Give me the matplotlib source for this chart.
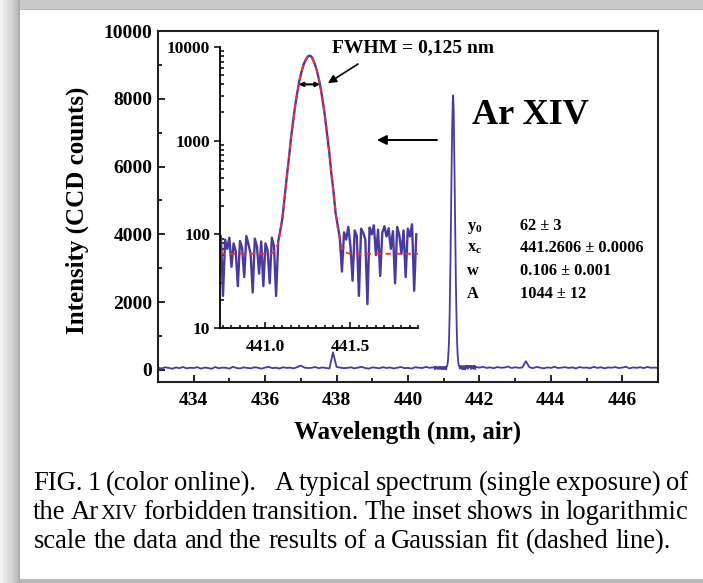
import numpy as np
import matplotlib.pyplot as plt
from matplotlib.patches import Rectangle
from matplotlib.ticker import MultipleLocator, FixedLocator, FixedFormatter, LogLocator, NullFormatter

W, H = 703, 583
serif = 'Liberation Serif'
plt.rcParams['font.family'] = serif
plt.rcParams['font.weight'] = 'bold'
plt.rcParams['axes.labelweight'] = 'bold'
plt.rcParams['mathtext.fontset'] = 'custom'
plt.rcParams['mathtext.rm'] = 'Liberation Serif:bold'
plt.rcParams['mathtext.it'] = 'Liberation Serif:bold'
plt.rcParams['mathtext.bf'] = 'Liberation Serif:bold'

# --- spectrum, coarse sampling away from the line (counts) ---
wl_left = np.round(np.linspace(433.0, 440.7, 78), 2)
counts_left = [70, 45, 80, 62, 38, 75, 55, 90, 48, 66, 58, 84, 40,
               72, 60, 35, 88, 52, 70, 64, 42, 95, 58, 46, 78, 60,
               50, 82, 66, 40, 74, 92, 55, 68, 44, 80, 62, 70, 48,
               86, 130, 72, 58, 64, 90, 52, 75, 60, 45, 520, 88, 70,
               55, 62, 80, 48, 72, 95, 58, 40, 76, 66, 52, 84, 60,
               74, 46, 68, 88, 55, 62, 42, 80, 70, 58, 92, 64, 75]
wl_right = np.round(np.linspace(441.9, 447.0, 52), 2)
counts_right = [85, 70, 95, 60, 78, 52, 88, 66, 74, 100, 58, 82, 64,
                72, 260, 80, 55, 90, 68, 48, 76, 62, 94, 58, 70, 84,
                60, 78, 45, 88, 66, 72, 54, 92, 62, 80, 50, 74, 68,
                86, 58, 70, 95, 48, 76, 64, 82, 55, 90, 66, 72, 60]

# --- full-resolution pixels around the Ar XIV line (inset) ---
wl_line = np.round(np.linspace(440.74, 441.89, 93), 4)
counts_line = [95, 22, 88, 70, 92, 45, 80, 66, 28, 85, 72, 35, 96, 78,
               62, 24, 90, 74, 38, 84, 28, 80, 68, 30, 92, 75, 22,
               84, 110, 150, 245, 405, 640, 1060, 1590, 2380, 3280, 4400,
               5460, 6560, 7330, 7950, 8100, 7700, 6780, 5830, 4680, 3620,
               2600, 1830, 1180, 760, 450, 290, 170, 125, 92, 40,
               105, 88, 120, 75, 32, 110, 96, 22, 115, 104, 88, 18, 118,
               100, 125, 60, 112, 36, 104, 122, 95, 116, 70, 108, 30, 120,
               98, 62, 110, 35, 115, 95, 128, 25, 100]

# Gaussian fit parameters
y0, xc, w, A = 62, 441.2606, 0.106, 1044
fwhm = 0.125

purple = '#4a3a9e'

fig = plt.figure(figsize=(W / 100, H / 100), dpi=100)

# page frame around the figure
left_greys = [0.95, 0.95, 0.95, 0.91, 0.9, 0.9, 0.89, 0.88, 0.86, 0.85, 0.85,
              0.84, 0.83, 0.8, 0.78, 0.77, 0.76, 0.72, 0.69, 0.68]
for i, g in enumerate(left_greys):
    fig.add_artist(Rectangle((i / W, 0), 1 / W, 1, transform=fig.transFigure,
                             color=str(g), lw=0, zorder=0))
fig.add_artist(Rectangle((20 / W, 1 - 9 / H), 1 - 20 / W, 9 / H,
                         transform=fig.transFigure, color='0.79', lw=0, zorder=0))
fig.add_artist(Rectangle((20 / W, 1 - 10 / H), 1 - 20 / W, 1.2 / H,
                         transform=fig.transFigure, color='0.72', lw=0, zorder=0))
fig.add_artist(Rectangle((20 / W, 0), 1 - 20 / W, 4 / H,
                         transform=fig.transFigure, color='0.72', lw=0, zorder=0))

# main spectrum
ax = fig.add_axes([158 / W, 1 - 382 / H, 500 / W, 351 / H])
wl_all = np.concatenate([wl_left, wl_line, wl_right])
counts_all = np.concatenate([counts_left, counts_line, counts_right])
ax.plot(wl_all, counts_all, color=purple, lw=1.3)
ax.set_xlim(433, 447)
ax.set_ylim(-354, 10000)
ax.xaxis.set_major_locator(MultipleLocator(2))
ax.xaxis.set_minor_locator(MultipleLocator(1))
ax.yaxis.set_major_locator(MultipleLocator(2000))
ax.yaxis.set_minor_locator(MultipleLocator(1000))
ax.tick_params(which='both', direction='in', top=False, right=False, width=1.2, labelsize=14)
ax.tick_params(which='major', length=5)
ax.tick_params(which='minor', length=3)
ax.tick_params(axis='x', pad=7)
ax.tick_params(axis='y', pad=4)
for s in ax.spines.values():
    s.set_linewidth(1.5)
    s.set_color('#222222')
ax.set_xlabel('Wavelength (nm, air)', fontsize=18, fontweight='bold', va='center')
ax.xaxis.set_label_coords(0.5, -0.142)
ax.set_ylabel('Intensity (CCD counts)', fontsize=18, fontweight='bold', va='center')
ax.yaxis.set_label_coords(-0.162, 0.49)

ax.text(441.79, 7257, 'Ar XIV', fontsize=26, va='baseline', ha='left')
par_names = [r'$\mathrm{y_0}$', r'$\mathrm{x_c}$', 'w', 'A']
par_vals = ['62 ± 3', '441.2606 ± 0.0006', '0.106 ± 0.001', '1044 ± 12']
par_y = [4130, 3481, 2802, 2124]
for name, val, yy in zip(par_names, par_vals, par_y):
    ax.text(441.65, yy, name, fontsize=11.8, va='baseline', ha='left')
    ax.text(443.14, yy, val, fontsize=11.8, va='baseline', ha='left')

# inset: line profile on log scale with the Gaussian fit
axi = fig.add_axes([220 / W, 1 - 328 / H, 198 / W, 281 / H])
axi.plot(wl_line, counts_line, color=purple, lw=1.7)
xf = np.linspace(440.735, 441.9, 600)
yf = y0 + A / (w * np.sqrt(np.pi / 2)) * np.exp(-2 * (xf - xc) ** 2 / w ** 2)
axi.plot(xf, yf, color='#ff2b2b', lw=1.3, ls=(0, (3, 2.5)))
axi.set_yscale('log')
axi.set_xlim(440.735, 441.9)
axi.set_ylim(10, 10000)
axi.spines['top'].set_visible(False)
axi.spines['right'].set_visible(False)
for s in ['left', 'bottom']:
    axi.spines[s].set_linewidth(1.3)
axi.yaxis.set_major_locator(FixedLocator([10, 100, 1000, 10000]))
axi.yaxis.set_major_formatter(FixedFormatter(['10', '100', '1000', '10000']))
axi.yaxis.set_minor_locator(LogLocator(base=10, subs=np.arange(2, 10)))
axi.yaxis.set_minor_formatter(NullFormatter())
axi.xaxis.set_major_locator(FixedLocator([441.0, 441.5]))
axi.xaxis.set_major_formatter(FixedFormatter(['441.0', '441.5']))
axi.xaxis.set_minor_locator(MultipleLocator(0.05))
axi.tick_params(which='both', top=False, right=False, labelsize=12.5, width=1.1)
axi.tick_params(axis='y', which='major', direction='out', length=4, pad=3)
axi.tick_params(axis='y', which='minor', direction='in', length=3)
axi.tick_params(axis='x', which='major', direction='in', length=4, pad=8)
axi.tick_params(axis='x', which='minor', direction='in', length=2.5)

# FWHM marker and labels
half = y0 + A / (w * np.sqrt(np.pi / 2)) / 2
axi.annotate('', xy=(xc - fwhm / 2, half), xytext=(xc + fwhm / 2, half),
             arrowprops=dict(arrowstyle='<|-|>', color='black', lw=1.5,
                             mutation_scale=6, shrinkA=0, shrinkB=0))
axi.text(0.975, 0.996, 'FWHM = 0,125 nm', transform=axi.transAxes, fontsize=14,
         ha='center', va='center', clip_on=False)
axi.annotate('', xy=(441.37, 4110), xytext=(441.547, 6580),
             arrowprops=dict(arrowstyle='-|>', color='black', lw=1.2,
                             mutation_scale=12, shrinkA=0, shrinkB=0),
             annotation_clip=False)
axi.annotate('', xy=(439.13, 6785), xycoords=ax.transData,
             xytext=(440.81, 6785), textcoords=ax.transData,
             arrowprops=dict(arrowstyle='-|>', color='black', lw=1.4,
                             mutation_scale=14, shrinkA=0, shrinkB=0),
             annotation_clip=False)

# caption, justified like the printed page
renderer = fig.canvas.get_renderer()
cap_size = 19.2


def caption_line(words, base_y, x0, x1=None, gap_weights=None):
    arts = []
    for word in words:
        pieces = [fig.text(0, 0, s, fontsize=sz, fontweight='normal', ha='left',
                           va='baseline', transform=fig.transFigure) for s, sz in word]
        arts.append(pieces)
    widths = []
    for pieces in arts:
        widths.append([p.get_window_extent(renderer).width for p in pieces])
    word_w = [sum(ws) + 1.5 * (len(ws) - 1) for ws in widths]
    n = len(words) - 1
    if gap_weights is None:
        gap_weights = [1.0] * n
    if x1 is None:
        unit = 0.25 * cap_size * 100 / 72
    else:
        unit = (x1 - x0 - sum(word_w)) / sum(gap_weights)
    x = x0
    for k, (pieces, ws) in enumerate(zip(arts, widths)):
        xp = x
        for p, pw in zip(pieces, ws):
            p.set_position((xp / W, 1 - base_y / H))
            xp += pw + 1.5
        x += word_w[k]
        if k < n:
            x += unit * gap_weights[k]


def plain(text):
    return [[(t, cap_size)] for t in text.split(' ')]


line1 = plain('FIG. 1 (color online). A typical spectrum (single exposure) of')
gw1 = [1.0] * (len(line1) - 1)
gw1[3] = 3.5
caption_line(line1, 490, 33, 688, gw1)
line2 = [[('the', cap_size)], [('Ar', cap_size), ('XIV', cap_size * 0.78)]] + \
    plain('forbidden transition. The inset shows in logarithmic')
caption_line(line2, 519, 33, 688)
caption_line(plain('scale the data and the results of a Gaussian fit (dashed line).'), 548, 34)

fig.savefig('out.png', dpi=100)
